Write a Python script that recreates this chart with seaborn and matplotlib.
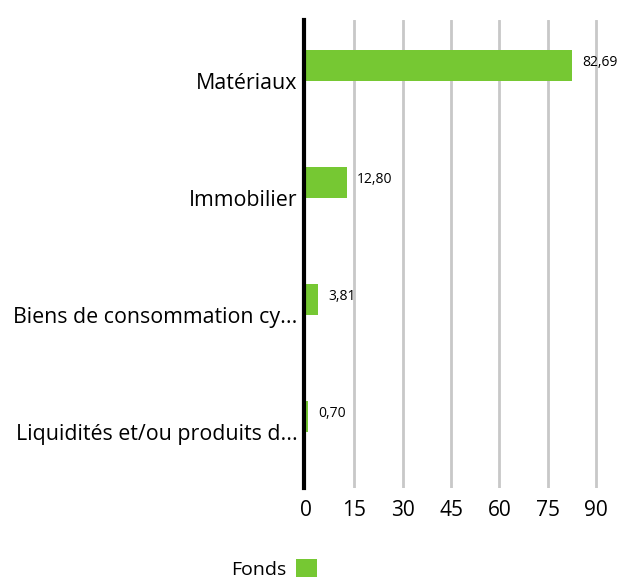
import matplotlib
matplotlib.use("Agg")
import matplotlib.pyplot as plt
import seaborn as sns
import pandas as pd
import numpy as np
from matplotlib.patches import Patch

categories = ["Matériaux", "Immobilier", "Biens de consommation cy...", "Liquidités et/ou produits d..."]
fonds = [82.69, 12.80, 3.81, 0.70]
value_labels = ["82,69", "12,80", "3,81", "0,70"]
series_name = "Fonds"
xticks = [0, 15, 30, 45, 60, 75, 90]

sns.set_theme(style="white")
plt.rcParams['font.family'] = ['Open Sans', 'DejaVu Sans']
plt.rcParams['text.color'] = 'black'

df = pd.DataFrame({
    "cat": categories * 2,
    "val": fonds + [np.nan] * len(fonds),
    "serie": [series_name] * len(fonds) + ["_autre"] * len(fonds),
})

fig = plt.figure(figsize=(6.21, 5.79), dpi=100)
x0, x90 = 306, 596
xmax = 91.5
ax_w = (x90 - x0) / 90 * xmax
ax = fig.add_axes([x0/621, 1 - 488/579, ax_w/621, (488 - 20)/579])

sns.barplot(data=df, y="cat", x="val", hue="serie", orient="h", dodge=True,
            width=0.52, palette=["#76c833", "#ffffff"], ax=ax, legend=False,
            errorbar=None, saturation=1, zorder=4, edgecolor="none", linewidth=0)

ax.set_xlim(0, xmax)
ax.set_ylim(3.48, -0.52)
ax.set_xticks(xticks)
ax.set_xticklabels([str(t) for t in xticks], fontsize=15, color="black")
ax.tick_params(axis="y", labelsize=15.4, pad=5, length=0, labelcolor="black")
ax.tick_params(axis="x", length=0, pad=9, labelcolor="black")
ax.set_xlabel("")
ax.set_ylabel("")
ax.xaxis.grid(True, color="#c8c8c8", linewidth=2, zorder=0)
for t in ax.get_xgridlines()[:1]:
    t.set_visible(False)
for s in ["top", "right", "bottom"]:
    ax.spines[s].set_visible(False)
ax.spines["left"].set_linewidth(3.0)
ax.spines["left"].set_color("black")
ax.spines["left"].set_zorder(5)
ax.spines["left"].set_position(("outward", 1.3))

bars = [p for p in ax.patches if p.get_width() > 0 and not np.isnan(p.get_width())]
bars = sorted(bars, key=lambda p: p.get_y())
for p, lab in zip(bars, value_labels):
    ax.annotate(lab, (p.get_width(), p.get_y() + p.get_height() / 2),
                xytext=(7, 2), textcoords="offset points", va="center", ha="left",
                fontsize=10, color="black")

handles = [Patch(facecolor="#76c833", edgecolor="none", label=series_name)]
fig.legend(handles=handles, loc="center", bbox_to_anchor=(274/621, 1 - 569/579),
           frameon=False, markerfirst=False, fontsize=14, handlelength=1.05,
           handleheight=1.05, handletextpad=0.5, labelcolor="black")

fig.savefig("out.png", dpi=100)
